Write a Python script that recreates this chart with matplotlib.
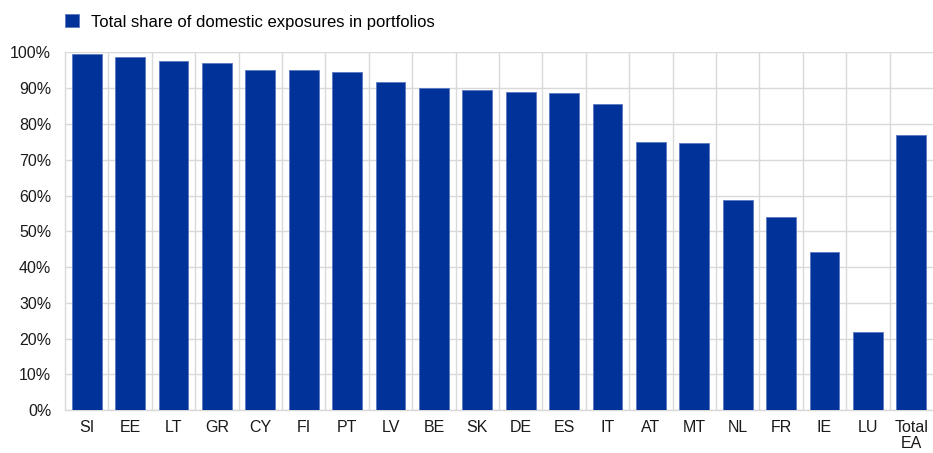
import numpy as np
import matplotlib
matplotlib.use("Agg")
import matplotlib.pyplot as plt
from matplotlib.ticker import PercentFormatter, FixedLocator

# Доля внутренних экспозиций по странам (%)
countries = ["SI", "EE", "LT", "GR", "CY", "FI", "PT", "LV", "BE", "SK",
             "DE", "ES", "IT", "AT", "MT", "NL", "FR", "IE", "LU", "Total\nEA"]
domestic_share = [99.6, 98.8, 97.6, 97.1, 95.2, 95.0, 94.4, 91.6, 90.0, 89.4,
                  88.8, 88.5, 85.6, 74.9, 74.7, 58.7, 54.0, 44.2, 21.8, 76.8]
legend_label = "Total share of domestic exposures in portfolios"
y_ticks = [0, 10, 20, 30, 40, 50, 60, 70, 80, 90, 100]

BLUE = "#003299"
GRID = "#d9d9d9"
FS = 11.5

plt.rcParams["font.family"] = ["Liberation Sans", "DejaVu Sans"]

fig = plt.figure(figsize=(9.33, 4.53), dpi=100)
ax = fig.add_axes([0.0697, 0.0943, 0.9303, 0.7902])

x = np.arange(len(countries))
bars = ax.bar(x, domestic_share, width=0.69, color=BLUE,
              edgecolor="#5a78c0", linewidth=0.6, label=legend_label, zorder=3)

ax.set_xlim(-0.5, len(countries) - 0.5)
ax.set_ylim(0, 100)
ax.set_yticks(y_ticks)
ax.yaxis.set_major_formatter(PercentFormatter(decimals=0))
ax.set_xticks(x)
ax.set_xticklabels(countries, fontsize=FS, color="#1a1a1a", linespacing=1.05)
ax.tick_params(axis="y", labelsize=FS, labelcolor="#1a1a1a", length=0, pad=10)
ax.tick_params(axis="x", length=0, pad=7)

# вертикальные разделители между категориями
ax.xaxis.set_minor_locator(FixedLocator(x[:-1] + 0.5))
ax.tick_params(axis="x", which="minor", length=0)
ax.grid(True, axis="x", which="minor", color=GRID, linewidth=1.0, zorder=0)
ax.grid(True, axis="y", which="major", color=GRID, linewidth=1.0, zorder=0)

for side in ["top", "right"]:
    ax.spines[side].set_visible(False)
for side in ["left", "bottom"]:
    ax.spines[side].set_color(GRID)
    ax.spines[side].set_linewidth(1.0)

fig.legend(handles=[bars], labels=[legend_label], loc="upper left",
           bbox_to_anchor=(0.0697, 0.968), frameon=False, fontsize=12,
           handlelength=0.82, handleheight=0.82, handletextpad=0.75,
           borderpad=0, borderaxespad=0)

fig.savefig("out.png", dpi=100)
